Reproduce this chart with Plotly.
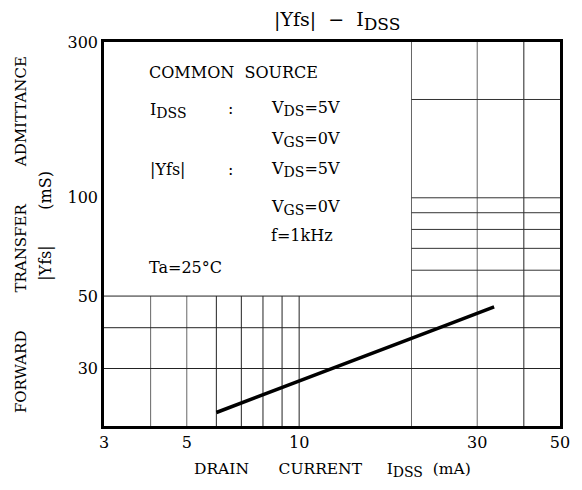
import math
import plotly.graph_objects as go

# ---- data ----
idss_ma = [6, 8, 10, 15, 20, 25, 33.3]
yfs_ms = [22.0, 24.9, 27.4, 32.8, 37.1, 40.9, 46.3]

x_tick_vals = [3, 5, 10, 30, 50]
x_tick_text = ["3", "5", "10", "30", "50"]
y_tick_vals = [30, 50, 100, 300]
y_tick_text = ["30", "50", "100", "300"]
x_grid_low = [4, 5, 6, 7, 8, 9, 10]      # only below the text box
x_grid_full = [20, 30, 40]
y_grid_full = [30, 40, 50]
y_grid_right = [60, 70, 80, 90, 100, 200]  # only right of the text box

x_range = [3, 50]
y_range = [20, 300]
box_x_max = 20
box_y_min = 50

FONT = "DejaVu Serif"
W, H = 582, 490
L, R, T, B = 104, 16, 42, 64
PW, PH = W - L - R, H - T - B


def px_x(p):
    return (p - L) / PW


def px_y(p):
    return (H - B - p) / PH


def fx(v):
    return math.log10(v / x_range[0]) / math.log10(x_range[1] / x_range[0])


def fy(v):
    return math.log10(v / y_range[0]) / math.log10(y_range[1] / y_range[0])


def sub(s, size):
    return '<sub><span style="font-size:%dpx">%s</span></sub>' % (size, s)


fig = go.Figure()
fig.add_trace(go.Scatter(
    x=idss_ma, y=yfs_ms, mode="lines",
    line=dict(color="black", width=3.5),
    showlegend=False, hoverinfo="skip",
))

shapes = []


def seg(x0, x1, y0, y1, color="#333333"):
    shapes.append(dict(type="line", xref="x domain", yref="y domain",
                       x0=x0, x1=x1, y0=y0, y1=y1, layer="below",
                       line=dict(color=color, width=1)))


for v in x_grid_low:
    seg(fx(v), fx(v), 0, fy(box_y_min), "#666666" if v in (4, 5) else "#222222")
for v in x_grid_full:
    seg(fx(v), fx(v), 0, 1, "#666666" if v in (20, 30) else "#222222")
for v in y_grid_full:
    seg(0, 1, fy(v), fy(v), "#222222")
for v in y_grid_right:
    seg(fx(box_x_max), 1, fy(v), fy(v), "#333333")

anns = []
LS = 16  # legend text size
SS = 14  # subscript size


def add_text(text, xp, yp, anchor="left", size=LS):
    anns.append(dict(
        text=text, x=px_x(xp), y=px_y(yp), xref="paper", yref="paper",
        xanchor=anchor, yanchor="middle", showarrow=False,
        font=dict(family=FONT, size=size, color="black"),
    ))


add_text("COMMON&nbsp;&nbsp;SOURCE", 148, 72)
add_text("I" + sub("DSS", SS), 149, 110)
add_text(":", 232, 108, anchor="center")
add_text("V" + sub("DS", SS) + "=5V", 271, 108)
add_text("V" + sub("GS", SS) + "=0V", 271, 139)
add_text("|Yfs|", 149, 169)
add_text(":", 232, 169, anchor="center")
add_text("V" + sub("DS", SS) + "=5V", 271, 169)
add_text("V" + sub("GS", SS) + "=0V", 271, 207)
add_text("f=1kHz", 271, 236)
add_text("Ta=25°C", 148, 267)

anns.append(dict(
    text="FORWARD" + "&nbsp;" * 8 + "TRANSFER" + "&nbsp;" * 8 + "ADMITTANCE",
    x=px_x(20), y=px_y(235), xref="paper", yref="paper", textangle=-90,
    xanchor="center", yanchor="middle", showarrow=False,
    font=dict(family=FONT, size=15, color="black"),
))
anns.append(dict(
    text="|Yfs|" + "&nbsp;" * 7 + "(mS)",
    x=px_x(44), y=px_y(226), xref="paper", yref="paper", textangle=-90,
    xanchor="center", yanchor="middle", showarrow=False,
    font=dict(family=FONT, size=16, color="black"),
))
anns.append(dict(
    text="DRAIN" + "&nbsp;" * 6 + "CURRENT" + "&nbsp;" * 5 + "I" + sub("DSS", 14) + "&nbsp;&nbsp;(mA)",
    x=px_x(336), y=px_y(470), xref="paper", yref="paper",
    xanchor="center", yanchor="middle", showarrow=False,
    font=dict(family=FONT, size=15.5, color="black"),
))
anns.append(dict(
    text="|Yfs|&nbsp;&nbsp;−&nbsp;&nbsp;I" + sub("DSS", 17),
    x=px_x(340), y=px_y(21), xref="paper", yref="paper",
    xanchor="center", yanchor="middle", showarrow=False,
    font=dict(family=FONT, size=19, color="black"),
))

fig.update_layout(
    width=W, height=H,
    margin=dict(l=L, r=R, t=T, b=B, pad=0),
    paper_bgcolor="white", plot_bgcolor="white",
    annotations=anns, shapes=shapes,
    xaxis=dict(
        type="log", range=[math.log10(x_range[0]), math.log10(x_range[1])],
        tickmode="array", tickvals=x_tick_vals, ticktext=x_tick_text,
        showgrid=False, zeroline=False, ticks="",
        tickfont=dict(family=FONT, size=16, color="black"),
        showline=True, mirror=True, linecolor="black", linewidth=2.5,
    ),
    yaxis=dict(
        type="log", range=[math.log10(y_range[0]), math.log10(y_range[1])],
        tickmode="array", tickvals=y_tick_vals, ticktext=y_tick_text,
        showgrid=False, zeroline=False, ticks="",
        tickfont=dict(family=FONT, size=16, color="black"),
        showline=True, mirror=True, linecolor="black", linewidth=2.5,
    ),
)

fig.write_html(
    "out.html",
    config={"displayModeBar": False},
    post_script="document.body.style.margin='0';document.body.style.padding='0';",
)
